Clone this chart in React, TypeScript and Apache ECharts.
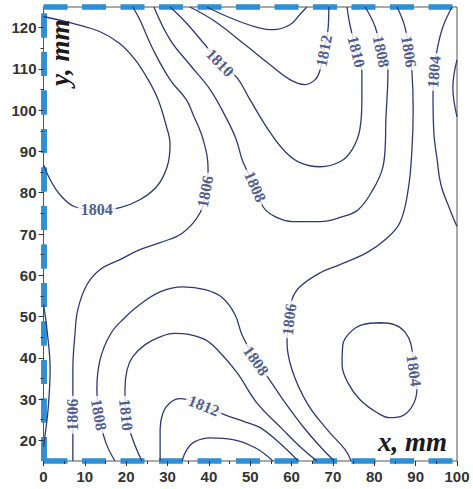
import React, { useEffect, useRef } from 'react';
import * as echarts from 'echarts';

// ---- axes ----
const xTicks = [0, 10, 20, 30, 40, 50, 60, 70, 80, 90, 100];
const yTicks = [20, 30, 40, 50, 60, 70, 80, 90, 100, 110, 120];
const xMinorTicks = [5, 15, 25, 35, 45, 55, 65, 75, 85, 95];
const yMinorTicks = [25, 35, 45, 55, 65, 75, 85, 95, 105, 115];
const xRange = [0, 100];
const yRange = [15, 125];

// ---- contour lines (x mm, y mm) ----
const c1804TopLeft = [[0,122.7],[6.4,121.2],[13.7,119.0],[18.5,116.1],[22.1,112.3],[25.3,107.4],[27.7,102.6],[29.6,96.5],[30.6,91.7],[29.9,86.3],[27.4,81.5],[23.3,78.3],[18.5,76.4],[12.9,75.9],[7.6,76.6],[4.0,79.5],[1.6,83.2],[0,86.8]];
const c1806Left = [[21.6,125],[23.3,121.9],[26.5,114.7],[30.6,107.4],[34.5,102.6],[36.2,98.9],[38.6,92.9],[39.8,85.6],[39.1,80.3],[37.9,75.2],[33.7,70.3],[28.2,67.9],[23.3,66.2],[18.5,63.8],[13.7,61.4],[10.5,57.7],[8.3,51.7],[7.6,45.6],[7.1,37.1],[7.1,26.2],[7.1,15]];
const c1808Top = [[26.7,125],[30.6,117.1],[35.4,111.0],[40.3,105.0],[44.4,97.7],[46.6,92.9],[48.3,87.3],[51.2,81.5],[53.1,76.6],[56.0,74.2],[60.3,73.0],[66.9,73.0],[71.7,74.0],[76.1,75.9],[79.7,80.8],[81.9,85.6],[82.6,90.4],[82.8,97.7],[83.3,109.3],[81.7,114.2],[80.2,120.2],[77.8,125]];
const c1810Top = [[30.6,125],[34.2,121.5],[38.6,116.4],[42.7,111.5],[46.8,107.9],[49.9,102.6],[54.8,94.6],[58.4,90.0],[62.0,87.3],[66.9,86.3],[71.7,87.5],[74.6,90.4],[76.5,95.3],[77.0,102.6],[77.0,109.1],[75.7,114.2],[74.1,120.7],[73.4,125]];
const c1812Top = [[35.4,125],[41.5,121.5],[48.7,115.9],[54.8,111.0],[59.6,107.4],[63.2,106.2],[65.7,107.4],[66.9,109.8],[67.8,114.4],[68.8,119.5],[69.0,125]];
const c1814Top = [[39.5,125],[45.1,122.4],[51.2,120.2],[55.5,119.5],[59.6,120.7],[62.0,123.2],[63.7,125]];
const c1806Right = [[85.5,125],[87.4,120.2],[88.4,114.2],[89.1,109.3],[89.4,100.1],[89.1,90.4],[88.2,80.8],[86.2,72.8],[82.6,68.6],[78.2,65.5],[71.7,62.6],[66.9,60.6],[62.0,57.2],[60.1,54.1],[59.4,49.3],[58.9,43.7],[60.1,37.1],[63.7,29.1],[68.6,22.6],[72.9,17.8],[74.4,15]];
const c1808Bottom = [[17.3,15],[15.1,19.4],[13.4,26.2],[12.9,32.3],[13.7,39.6],[16.1,45.6],[19.2,49.3],[23.3,52.9],[28.2,56.0],[33.7,57.2],[39.1,56.5],[43.2,54.6],[46.3,50.5],[48.0,45.6],[51.4,39.3],[54.3,35.2],[57.9,29.9],[62.8,23.3],[66.9,18.5],[70.3,15]];
const c1810Bottom = [[23.8,15],[21.6,20.2],[20.0,26.2],[19.7,32.3],[20.2,37.1],[21.6,40.3],[24.6,43.2],[28.2,45.1],[31.8,45.9],[35.4,45.6],[39.1,44.4],[42.0,42.0],[46.8,36.4],[51.6,29.1],[57.9,22.6],[62.0,18.5],[66.1,15]];
const c1812Bottom = [[28.2,15],[28.2,22.6],[28.9,26.7],[30.6,29.1],[33.0,30.1],[38.8,28.4],[43.9,26.2],[48.7,24.5],[52.4,23.1],[56.7,19.7],[61.6,15]];
const c1814Bottom = [[33.5,15],[34.7,17.8],[36.6,19.7],[40.3,20.6],[45.8,20.2],[51.2,18.2],[55.5,15]];
const c1804LeftEdge = [[0,52.9],[0.85,46.8],[1.6,37.1],[1.1,27.4],[0.4,21.4],[0,18.5]];
const c1804TopRight = [[98.8,125],[96.6,120.2],[95.2,114.7],[94.4,109.3],[94.2,103.3],[94.4,94.6],[95.2,88.0],[96.1,82.0],[98.3,75.9],[100,71.8]];
const c1802RightEdge = [[100,112.2],[99.0,105.5],[100,98.4]];
const c1804Loop = [[81.4,48.5],[85.0,48.0],[87.4,46.3],[88.9,43.2],[89.6,36.9],[90.3,32.3],[89.4,28.7],[86.9,26.0],[83.8,25.5],[80.7,26.7],[76.5,29.9],[73.6,34.0],[72.2,38.4],[72.4,43.2],[74.1,46.1],[77.0,48.0],[81.4,48.5]];

const contourLines = [
  c1804TopLeft, c1806Left, c1808Top, c1810Top, c1812Top, c1814Top, c1806Right,
  c1808Bottom, c1810Bottom, c1812Bottom, c1814Bottom, c1804LeftEdge, c1804TopRight,
  c1802RightEdge, c1804Loop,
];

// ---- contour labels ----
const labelLevels = [1804, 1806, 1808, 1810, 1812, 1810, 1808, 1806, 1804, 1806, 1808, 1810, 1812, 1808, 1806, 1804];
const labelX = [12.9, 39.1, 51.2, 42.7, 67.8, 75.7, 81.7, 88.4, 94.4, 7.1, 13.4, 20.0, 38.8, 51.4, 59.4, 89.6];
const labelY = [75.9, 80.3, 81.5, 111.5, 114.4, 114.2, 114.2, 114.2, 109.3, 26.2, 26.2, 26.2, 28.4, 39.3, 49.3, 36.9];
const labelAngle = [0, 79, -66, -46, 79, -76, -78, -81, 85, 90, -80, -84, -22, -55, 83, -82];

const LINE_COLOR = '#2c3a74';
const LABEL_COLOR = '#24336f';
const FRAME_BLUE = '#2e8fd5';
const DASH = [24, 14.5];

export default function App() {
  const ref = useRef<HTMLDivElement>(null);

  useEffect(() => {
    if (!ref.current) return;
    const chart = echarts.init(ref.current, undefined, { renderer: 'svg' });

    const frameLine = { show: true, lineStyle: { color: FRAME_BLUE, width: 5.5, type: DASH, cap: 'butt' } };
    const tickLabel = { fontSize: 15, fontWeight: 'bold', color: '#333', fontFamily: '"Liberation Sans", Arial, sans-serif' };

    const lineSeries = contourLines.map((pts) => ({
      type: 'line',
      data: pts,
      xAxisIndex: 0,
      yAxisIndex: 0,
      smooth: 0.4,
      showSymbol: false,
      symbol: 'none',
      silent: true,
      lineStyle: { color: LINE_COLOR, width: 1.3 },
      z: 2,
    }));

    const labelData = labelLevels.map((lv, i) => ({
      value: [labelX[i], labelY[i], lv],
      label: { rotate: labelAngle[i] },
    }));

    chart.setOption({
      animation: false,
      backgroundColor: '#fff',
      grid: { left: 43.5, right: 16, top: 7, bottom: 28, show: true, borderColor: '#555', borderWidth: 1, backgroundColor: '#fff' },
      xAxis: [
        {
          type: 'value', min: xRange[0], max: xRange[1], position: 'bottom',
          axisLine: frameLine,
          axisTick: { show: true, length: 5, lineStyle: { color: '#333' }, customValues: xTicks },
          axisLabel: { ...tickLabel, margin: 8, customValues: xTicks },
          splitLine: { show: false },
        },
        {
          type: 'value', min: xRange[0], max: xRange[1], position: 'top',
          axisLine: frameLine, axisTick: { show: false }, axisLabel: { show: false }, splitLine: { show: false },
        },
        {
          type: 'value', min: xRange[0], max: xRange[1], position: 'bottom',
          axisLine: { show: false },
          axisTick: { show: true, length: 3, lineStyle: { color: '#333' }, customValues: xMinorTicks },
          axisLabel: { show: false }, splitLine: { show: false },
        },
      ],
      yAxis: [
        {
          type: 'value', min: yRange[0], max: yRange[1], position: 'left',
          axisLine: frameLine,
          axisTick: { show: true, length: 5, lineStyle: { color: '#333' }, customValues: yTicks },
          axisLabel: { ...tickLabel, margin: 7, customValues: yTicks },
          splitLine: { show: false },
        },
        {
          type: 'value', min: yRange[0], max: yRange[1], position: 'right',
          axisLine: frameLine, axisTick: { show: false }, axisLabel: { show: false }, splitLine: { show: false },
        },
        {
          type: 'value', min: yRange[0], max: yRange[1], position: 'left',
          axisLine: { show: false },
          axisTick: { show: true, length: 3, lineStyle: { color: '#333' }, customValues: yMinorTicks },
          axisLabel: { show: false }, splitLine: { show: false },
        },
      ],
      series: [
        ...lineSeries,
        {
          type: 'scatter',
          data: labelData,
          xAxisIndex: 0,
          yAxisIndex: 0,
          symbolSize: 1,
          itemStyle: { color: 'rgba(0,0,0,0)' },
          silent: true,
          z: 5,
          label: {
            show: true,
            position: 'inside',
            formatter: (p: any) => String(p.value[2]),
            fontFamily: '"Liberation Serif", "Times New Roman", serif',
            fontWeight: 'bold',
            fontSize: 16,
            color: LABEL_COLOR,
            backgroundColor: '#fff',
            padding: [0, 3],
          },
        },
      ],
      graphic: [
        {
          type: 'text', x: 73, y: 86, rotation: Math.PI / 2, z: 10,
          style: {
            text: 'y, mm', font: 'italic bold 27px "Liberation Serif", "Times New Roman", serif',
            fill: '#1a1a1a', textAlign: 'left', textVerticalAlign: 'bottom',
          },
        },
        {
          type: 'text', x: 447, y: 455, z: 10,
          style: {
            text: 'x, mm', font: 'italic bold 27px "Liberation Serif", "Times New Roman", serif',
            fill: '#1a1a1a', textAlign: 'right', textVerticalAlign: 'bottom',
          },
        },
      ],
    });

    return () => chart.dispose();
  }, []);

  return (
    <div
      ref={ref}
      style={{ position: 'absolute', left: 0, top: 0, width: 473, height: 489, background: '#fff' }}
    />
  );
}
